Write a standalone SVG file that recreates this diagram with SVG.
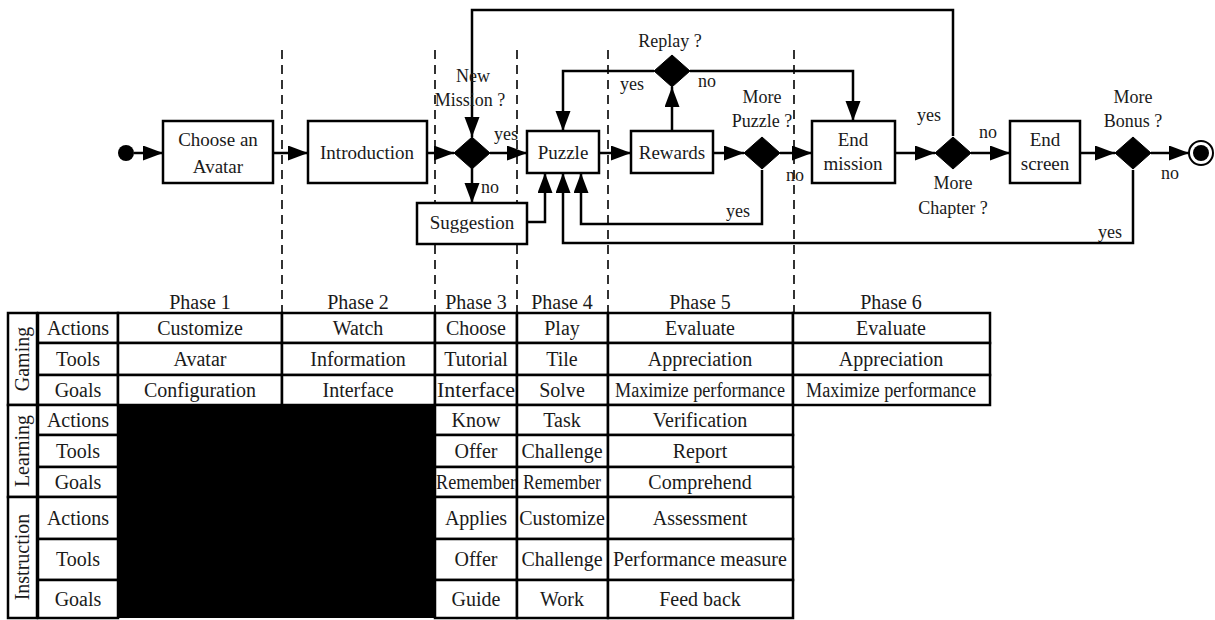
<svg xmlns="http://www.w3.org/2000/svg" width="1215" height="620" viewBox="0 0 1215 620" font-family="'Liberation Serif', 'DejaVu Serif', serif">
<style>
text{font-family:'Liberation Serif','DejaVu Serif',serif;fill:#1a1a1a;text-anchor:middle}
.n{font-size:19px}
.l{font-size:18px}
.t{font-size:20px}
.box{fill:#fff;stroke:#000;stroke-width:2.5}
.dia{fill:#000;stroke:#000;stroke-width:1}
.c{fill:none;stroke:#000;stroke-width:2.5;marker-end:url(#ah)}
.dash{stroke:#000;stroke-width:1.6;stroke-dasharray:9 6;fill:none}
.cell{fill:#fff;stroke:#000;stroke-width:2.5}
</style>
<defs>
<marker id="ah" markerUnits="userSpaceOnUse" markerWidth="20" markerHeight="16" refX="20" refY="7.5" orient="auto">
<path d="M0,0 L20,7.5 L0,15 z" fill="#000"/>
</marker>
</defs>
<rect width="1215" height="620" fill="#fff"/>

<g id="phase-dividers">
<line class="dash" x1="282" y1="50" x2="282" y2="313"/>
<line class="dash" x1="435" y1="50" x2="435" y2="313"/>
<line class="dash" x1="517" y1="50" x2="517" y2="313"/>
<line class="dash" x1="608" y1="50" x2="608" y2="313"/>
<line class="dash" x1="794" y1="50" x2="794" y2="313"/>
</g>

<g id="connectors">
<path class="c" d="M134,153 H163"/>
<path class="c" d="M273,153 H308"/>
<path class="c" d="M427,153 H454"/>
<path class="c" d="M490,153 H527"/>
<path class="c" d="M472,168 V203"/>
<path class="c" d="M527,222 H545 V173"/>
<path class="c" d="M599,153 H631"/>
<path class="c" d="M672,131 V87"/>
<path class="c" d="M654,71 H563 V131"/>
<path class="c" d="M690,71 H853 V121"/>
<path class="c" d="M713,153 H744"/>
<path class="c" d="M780,153 H812"/>
<path class="c" d="M762,170 V224 H581 V173"/>
<path class="c" d="M895,153 H935"/>
<path class="c" d="M953,136 V10 H472 V137"/>
<path class="c" d="M971,153 H1010"/>
<path class="c" d="M1080,153 H1115"/>
<path class="c" d="M1151,153 H1189"/>
<path class="c" d="M1133,170 V243 H563 V173"/>
</g>

<g id="start"><circle cx="126" cy="153" r="8" fill="#000"/></g>
<g id="end"><circle cx="1201" cy="153" r="12" fill="#fff" stroke="#000" stroke-width="2"/><circle cx="1201" cy="153" r="8" fill="#000"/></g>

<g id="choose-avatar"><rect class="box" x="163" y="121" width="110" height="62"/><text class="n" x="218" y="146">Choose an</text><text class="n" x="218" y="173">Avatar</text></g>
<g id="introduction"><rect class="box" x="308" y="121" width="119" height="62"/><text class="n" x="367" y="159">Introduction</text></g>
<g id="new-mission"><path class="dia" d="M472,137 L490,153 L472,169 L454,153 z"/><text class="l" x="473" y="82">New</text><text class="l" x="470" y="106">Mission ?</text><text class="l" x="506" y="140">yes</text><text class="l" x="490" y="193">no</text></g>
<g id="suggestion"><rect class="box" x="417" y="203" width="110" height="41"/><text class="n" x="472" y="229">Suggestion</text></g>
<g id="puzzle"><rect class="box" x="527" y="131" width="72" height="42"/><text class="n" x="563" y="159">Puzzle</text></g>
<g id="rewards"><rect class="box" x="631" y="131" width="82" height="42"/><text class="n" x="672" y="159">Rewards</text></g>
<g id="replay"><path class="dia" d="M672,55 L690,71 L672,87 L654,71 z"/><text class="l" x="670" y="47">Replay ?</text><text class="l" x="632" y="90">yes</text><text class="l" x="707" y="87">no</text></g>
<g id="more-puzzle"><path class="dia" d="M762,137 L780,153 L762,169 L744,153 z"/><text class="l" x="762" y="103">More</text><text class="l" x="762" y="127">Puzzle ?</text><text class="l" x="795" y="181">no</text><text class="l" x="738" y="217">yes</text></g>
<g id="end-mission"><rect class="box" x="812" y="121" width="83" height="62"/><text class="n" x="853" y="146">End</text><text class="n" x="853" y="170">mission</text></g>
<g id="more-chapter"><path class="dia" d="M953,137 L971,153 L953,169 L935,153 z"/><text class="l" x="953" y="189">More</text><text class="l" x="953" y="214">Chapter ?</text><text class="l" x="929" y="121">yes</text><text class="l" x="988" y="138">no</text></g>
<g id="end-screen"><rect class="box" x="1010" y="121" width="70" height="62"/><text class="n" x="1045" y="146">End</text><text class="n" x="1045" y="170">screen</text></g>
<g id="more-bonus"><path class="dia" d="M1133,137 L1151,153 L1133,169 L1115,153 z"/><text class="l" x="1133" y="103">More</text><text class="l" x="1133" y="127">Bonus ?</text><text class="l" x="1170" y="179">no</text><text class="l" x="1110" y="238">yes</text></g>

<g id="phase-headers">
<text class="t" x="200" y="309">Phase 1</text>
<text class="t" x="358" y="309">Phase 2</text>
<text class="t" x="476" y="309">Phase 3</text>
<text class="t" x="562" y="309">Phase 4</text>
<text class="t" x="700" y="309">Phase 5</text>
<text class="t" x="891" y="309">Phase 6</text>
</g>

<g id="table">
<rect x="118" y="405" width="317" height="213" fill="#000"/>
<rect class="cell" x="8" y="313" width="29" height="92"/>
<rect class="cell" x="8" y="405" width="29" height="92"/>
<rect class="cell" x="8" y="497" width="29" height="121"/>
<text class="t" transform="translate(29,359) rotate(-90)">Gaming</text>
<text class="t" transform="translate(29,451) rotate(-90)">Learning</text>
<text class="t" transform="translate(29,557) rotate(-90)">Instruction</text>
<rect class="cell" x="38" y="313" width="80" height="30"/>
<rect class="cell" x="38" y="343" width="80" height="32"/>
<rect class="cell" x="38" y="375" width="80" height="30"/>
<rect class="cell" x="38" y="405" width="80" height="30"/>
<rect class="cell" x="38" y="435" width="80" height="32"/>
<rect class="cell" x="38" y="467" width="80" height="30"/>
<rect class="cell" x="38" y="497" width="80" height="42"/>
<rect class="cell" x="38" y="539" width="80" height="41"/>
<rect class="cell" x="38" y="580" width="80" height="38"/>
<text class="t" x="78" y="335">Actions</text>
<text class="t" x="78" y="366">Tools</text>
<text class="t" x="78" y="397">Goals</text>
<text class="t" x="78" y="427">Actions</text>
<text class="t" x="78" y="458">Tools</text>
<text class="t" x="78" y="489">Goals</text>
<text class="t" x="78" y="525">Actions</text>
<text class="t" x="78" y="566">Tools</text>
<text class="t" x="78" y="606">Goals</text>
<rect class="cell" x="118" y="313" width="164" height="30"/>
<rect class="cell" x="118" y="343" width="164" height="32"/>
<rect class="cell" x="118" y="375" width="164" height="30"/>
<rect class="cell" x="282" y="313" width="153" height="30"/>
<rect class="cell" x="282" y="343" width="153" height="32"/>
<rect class="cell" x="282" y="375" width="153" height="30"/>
<rect class="cell" x="435" y="313" width="82" height="30"/>
<rect class="cell" x="435" y="343" width="82" height="32"/>
<rect class="cell" x="435" y="375" width="82" height="30"/>
<rect class="cell" x="517" y="313" width="91" height="30"/>
<rect class="cell" x="517" y="343" width="91" height="32"/>
<rect class="cell" x="517" y="375" width="91" height="30"/>
<rect class="cell" x="608" y="313" width="185" height="30"/>
<rect class="cell" x="608" y="343" width="185" height="32"/>
<rect class="cell" x="608" y="375" width="185" height="30"/>
<rect class="cell" x="793" y="313" width="197" height="30"/>
<rect class="cell" x="793" y="343" width="197" height="32"/>
<rect class="cell" x="793" y="375" width="197" height="30"/>
<text class="t" x="200" y="335">Customize</text>
<text class="t" x="200" y="366">Avatar</text>
<text class="t" x="200" y="397">Configuration</text>
<text class="t" x="358" y="335">Watch</text>
<text class="t" x="358" y="366">Information</text>
<text class="t" x="358" y="397">Interface</text>
<text class="t" x="476" y="335">Choose</text>
<text class="t" x="476" y="366">Tutorial</text>
<text class="t" x="476" y="397" textLength="78" lengthAdjust="spacingAndGlyphs">Interface</text>
<text class="t" x="562" y="335">Play</text>
<text class="t" x="562" y="366">Tile</text>
<text class="t" x="562" y="397">Solve</text>
<text class="t" x="700" y="335">Evaluate</text>
<text class="t" x="700" y="366">Appreciation</text>
<text class="t" x="700" y="397" textLength="170" lengthAdjust="spacingAndGlyphs">Maximize performance</text>
<text class="t" x="891" y="335">Evaluate</text>
<text class="t" x="891" y="366">Appreciation</text>
<text class="t" x="891" y="397" textLength="170" lengthAdjust="spacingAndGlyphs">Maximize performance</text>
<rect class="cell" x="435" y="405" width="82" height="30"/>
<rect class="cell" x="435" y="435" width="82" height="32"/>
<rect class="cell" x="435" y="467" width="82" height="30"/>
<rect class="cell" x="435" y="497" width="82" height="42"/>
<rect class="cell" x="435" y="539" width="82" height="41"/>
<rect class="cell" x="435" y="580" width="82" height="38"/>
<rect class="cell" x="517" y="405" width="91" height="30"/>
<rect class="cell" x="517" y="435" width="91" height="32"/>
<rect class="cell" x="517" y="467" width="91" height="30"/>
<rect class="cell" x="517" y="497" width="91" height="42"/>
<rect class="cell" x="517" y="539" width="91" height="41"/>
<rect class="cell" x="517" y="580" width="91" height="38"/>
<rect class="cell" x="608" y="405" width="185" height="30"/>
<rect class="cell" x="608" y="435" width="185" height="32"/>
<rect class="cell" x="608" y="467" width="185" height="30"/>
<rect class="cell" x="608" y="497" width="185" height="42"/>
<rect class="cell" x="608" y="539" width="185" height="41"/>
<rect class="cell" x="608" y="580" width="185" height="38"/>
<text class="t" x="476" y="427">Know</text>
<text class="t" x="476" y="458">Offer</text>
<text class="t" x="476" y="489" textLength="80" lengthAdjust="spacingAndGlyphs">Remember</text>
<text class="t" x="476" y="525">Applies</text>
<text class="t" x="476" y="566">Offer</text>
<text class="t" x="476" y="606">Guide</text>
<text class="t" x="562" y="427">Task</text>
<text class="t" x="562" y="458">Challenge</text>
<text class="t" x="562" y="489" textLength="78" lengthAdjust="spacingAndGlyphs">Remember</text>
<text class="t" x="562" y="525">Customize</text>
<text class="t" x="562" y="566">Challenge</text>
<text class="t" x="562" y="606">Work</text>
<text class="t" x="700" y="427">Verification</text>
<text class="t" x="700" y="458">Report</text>
<text class="t" x="700" y="489">Comprehend</text>
<text class="t" x="700" y="525">Assessment</text>
<text class="t" x="700" y="566">Performance measure</text>
<text class="t" x="700" y="606">Feed back</text>
</g>
</svg>
